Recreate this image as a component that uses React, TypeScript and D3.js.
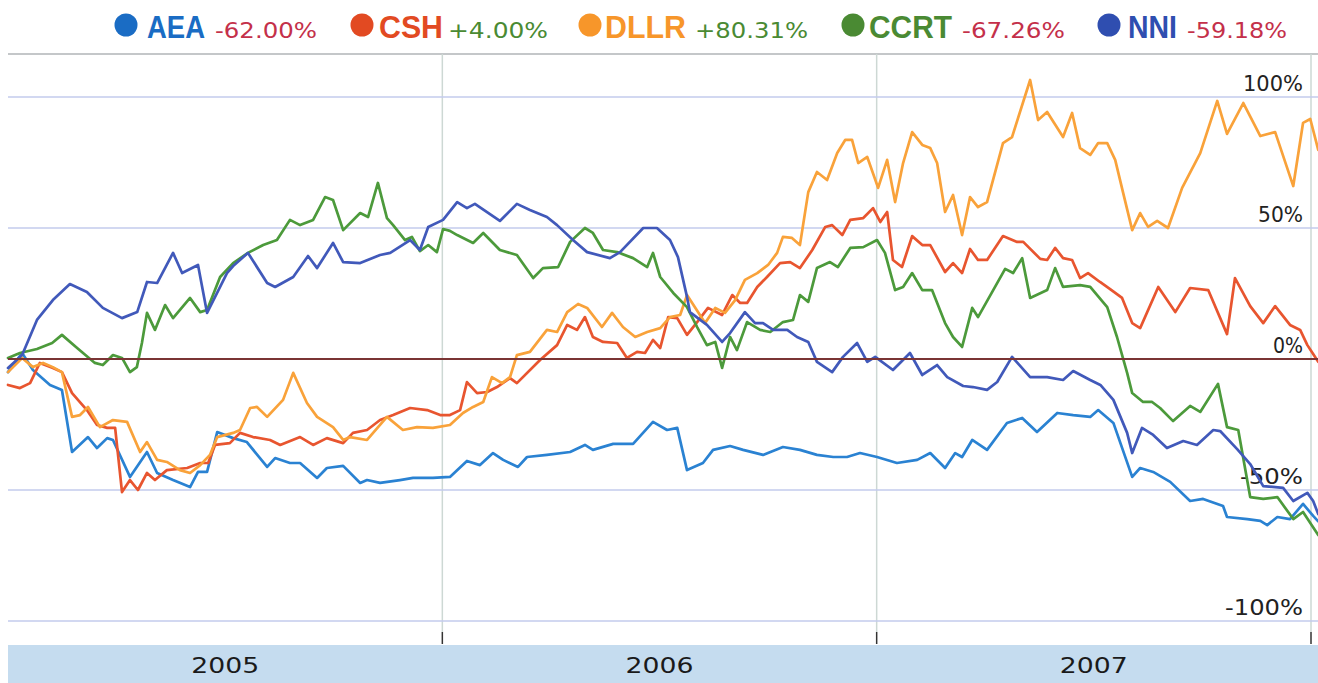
import { useMemo } from 'react';
import * as d3 from 'd3';

// months since Jan 2005, percent change
const AEA: [number, number][] = [
  [0, -5], [0.39, 2.3], [0.69, -4.2], [1.16, -9.9], [1.49, -11.8], [1.77, -35.5], [2.21, -29.8], [2.46, -34],
  [2.74, -30.2], [2.9, -30.9], [3.37, -45], [3.84, -35.5], [4.12, -43.5], [4.56, -46.2], [5.03, -48.9], [5.25, -43.1],
  [5.5, -43.1], [5.78, -27.9], [6.22, -30.2], [6.6, -31.7], [7.16, -41.2], [7.38, -37.8], [7.79, -39.7], [8.07, -39.7],
  [8.54, -45.4], [8.81, -41.6], [9.26, -40.8], [9.73, -47.3], [9.92, -46.2], [10.28, -47.3], [10.83, -46.2],
  [11.19, -45.4], [11.74, -45.4], [12.21, -45], [12.68, -38.9], [13.04, -40.5], [13.4, -35.9], [13.68, -38.5],
  [14.09, -41.2], [14.34, -37.4], [14.89, -36.6], [15.53, -35.5], [15.94, -32.8], [16.16, -34.7], [16.72, -32.4],
  [17.27, -32.4], [17.82, -24], [18.21, -27.1], [18.49, -26.3], [18.76, -42.4], [19.2, -39.7], [19.48, -34.7],
  [19.95, -33.2], [20.31, -34.7], [20.86, -36.6], [21.41, -33.6], [21.88, -34.7], [22.35, -36.6], [22.8, -37.4],
  [23.18, -37.4], [23.54, -35.9], [24.01, -37.4], [24.56, -39.7], [25.12, -38.5], [25.48, -35.9], [25.89, -41.6],
  [26.17, -35.9], [26.36, -37.4], [26.64, -30.9], [27.05, -34.7], [27.6, -24.4], [28.02, -22.5], [28.43, -27.9],
  [28.99, -20.6], [29.43, -21.4], [29.9, -22.1], [30.12, -19.5], [30.54, -24.4], [31.06, -45], [31.28, -41.6],
  [31.64, -43.1], [32.11, -46.9], [32.66, -54.2], [33.02, -53.4], [33.57, -56.1], [33.68, -60.3], [34.24, -61.1],
  [34.6, -61.8], [34.79, -63.4], [35.07, -60.3], [35.42, -61.1], [35.78, -55.3], [36.06, -59.9], [36.2, -62],
];

const CSH: [number, number][] = [
  [0, -9.9], [0.33, -11.1], [0.61, -9.2], [0.88, -1.5], [1.24, -3.4], [1.49, -5], [1.77, -13], [2.18, -19.5],
  [2.46, -25.2], [2.74, -26.3], [2.96, -26.3], [3.15, -50.8], [3.37, -46.2], [3.59, -50], [3.84, -43.5], [4.06, -46.2],
  [4.39, -42.4], [4.95, -41.6], [5.31, -39.7], [5.53, -39.7], [5.72, -32.8], [6.13, -32.1], [6.41, -28.2],
  [6.77, -29.8], [7.24, -30.9], [7.52, -32.8], [8.07, -29.8], [8.43, -32.8], [8.81, -30.2], [9.26, -32.1],
  [9.53, -28.2], [9.92, -27.1], [10.28, -23.3], [10.64, -21.4], [11.11, -18.7], [11.58, -19.5], [11.94, -21.4],
  [12.21, -21.4], [12.49, -19.5], [12.68, -8.8], [12.96, -13], [13.24, -12.6], [13.51, -10.7], [13.87, -7.3],
  [14.06, -9.2], [14.7, -0.4], [15.17, 5.3], [15.45, 13], [15.72, 11.1], [15.94, 16], [16.16, 8.4], [16.44, 6.5],
  [16.83, 6.1], [17.1, 0.4], [17.38, 2.7], [17.6, 2.3], [17.82, 7.3], [18.02, 4.2], [18.24, 16], [18.49, 15.6],
  [18.76, 9.2], [19.04, 14.1], [19.34, 19.5], [19.73, 16.8], [20.01, 24.4], [20.23, 21.4], [20.42, 21.4],
  [20.7, 27.5], [20.97, 31.3], [21.33, 36.6], [21.61, 37], [21.88, 34.7], [22.22, 41.6], [22.58, 50.4],
  [22.77, 51.1], [23.05, 47.3], [23.27, 53.1], [23.63, 53.8], [23.9, 57.6], [24.1, 52.3], [24.29, 56.1],
  [24.45, 37.8], [24.7, 35.1], [24.98, 46.9], [25.26, 43.5], [25.48, 43.5], [25.89, 33.2], [26.11, 36.6],
  [26.36, 32.8], [26.58, 42], [26.8, 37.8], [27.05, 37.8], [27.49, 46.9], [27.88, 44.7], [28.05, 44.7],
  [28.52, 38.2], [28.71, 37.8], [28.93, 42.4], [29.15, 38.5], [29.4, 37.8], [29.62, 30.9], [29.84, 32.8],
  [30.17, 29.4], [30.45, 26.7], [30.78, 23.3], [31.06, 13.7], [31.28, 11.8], [31.78, 27.5], [32.25, 17.9],
  [32.66, 27.1], [33.16, 26.3], [33.68, 9.5], [33.9, 30.9], [34.32, 20.2], [34.68, 13.7], [35.01, 20.2],
  [35.42, 13], [35.7, 11.1], [35.9, 5.3], [36.06, 1.9], [36.2, -1.1],
];

const DLLR: [number, number][] = [
  [0, -5], [0.39, 0.4], [0.69, -3.1], [0.97, -1.5], [1.24, -3.1], [1.49, -5], [1.77, -22.1], [1.99, -21.4],
  [2.21, -18.3], [2.54, -26], [2.9, -23.3], [3.29, -24], [3.65, -35.5], [3.84, -31.7], [4.12, -38.5], [4.39, -39.3],
  [4.75, -42.4], [5.03, -43.5], [5.31, -40.5], [5.58, -36.6], [5.78, -29.8], [6.22, -28.2], [6.41, -27.1],
  [6.69, -18.7], [6.88, -18.3], [7.16, -22.1], [7.6, -15.6], [7.88, -5.3], [8.26, -16.8], [8.54, -22.1],
  [8.98, -26], [9.26, -30.9], [9.45, -29.8], [9.92, -30.9], [10.47, -22.1], [10.91, -27.1], [11.3, -26],
  [11.74, -26.3], [12.21, -25.2], [12.57, -20.6], [12.85, -18.3], [13.13, -16.4], [13.37, -6.9], [13.65, -9.2],
  [13.87, -6.9], [14.06, 1.5], [14.42, 2.7], [14.89, 11.1], [15.17, 10.3], [15.45, 17.9], [15.75, 21],
  [16, 19.5], [16.41, 12.2], [16.69, 17.6], [16.99, 12.2], [17.33, 8.4], [17.66, 10.3], [18.02, 11.8],
  [18.29, 16], [18.57, 16.8], [18.76, 24.4], [19.26, 13.7], [19.54, 19.5], [19.81, 17.6], [20.09, 22.5],
  [20.36, 30.2], [20.7, 32.8], [21, 35.9], [21.25, 40.5], [21.41, 46.6], [21.66, 46.2], [21.88, 43.5],
  [22.11, 63.7], [22.35, 71.4], [22.63, 68.3], [22.91, 78.6], [23.13, 83.6], [23.32, 83.6], [23.49, 74.8],
  [23.74, 77.1], [24.04, 65.3], [24.29, 76], [24.51, 59.9], [24.73, 74.8], [24.98, 86.6], [25.26, 81.7],
  [25.48, 80.5], [25.67, 74.8], [25.89, 56.1], [26.11, 62.6], [26.36, 47.3], [26.58, 61.8], [26.8, 58],
  [27.05, 59.9], [27.49, 82.4], [27.74, 84.7], [28.24, 106.5], [28.46, 91.2], [28.71, 94.3], [29.15, 84.7],
  [29.4, 93.9], [29.62, 80.5], [29.9, 77.9], [30.12, 82.4], [30.37, 82.4], [30.59, 76], [30.81, 63.4],
  [31.06, 49.2], [31.28, 55.7], [31.5, 50.4], [31.75, 52.7], [32.05, 50], [32.44, 65.3], [32.94, 78.6],
  [33.41, 98.5], [33.68, 85.9], [34.13, 97.7], [34.6, 85.1], [35.01, 86.6], [35.51, 66], [35.78, 90.1],
  [35.98, 91.6], [36.2, 79.8],
];

const CCRT: [number, number][] = [
  [0, 0.4], [0.33, 2.3], [0.8, 3.8], [1.22, 6.1], [1.49, 9.2], [1.91, 4.2], [2.4, -1.5], [2.62, -2.3], [2.9, 1.5],
  [3.15, 0.4], [3.37, -5], [3.56, -3.1], [3.7, 6.1], [3.84, 17.6], [4.06, 11.1], [4.34, 20.6], [4.56, 15.6],
  [5.03, 23.3], [5.31, 17.9], [5.5, 18.7], [5.86, 31.3], [6.22, 36.6], [6.63, 40.5], [7.05, 43.5], [7.43, 45.4],
  [7.79, 53.1], [8.07, 51.1], [8.43, 53.1], [8.76, 61.8], [8.98, 60.7], [9.26, 49.2], [9.73, 55.7], [9.95, 54.2],
  [10.22, 67.2], [10.47, 53.8], [10.64, 51.1], [10.97, 45.4], [11.16, 46.6], [11.38, 41.2], [11.61, 43.5],
  [11.85, 40.8], [12.02, 49.6], [12.21, 48.9], [12.41, 47.3], [12.85, 44.3], [13.13, 48.1], [13.59, 41.6],
  [14.06, 39.7], [14.51, 30.9], [14.78, 34.7], [15.2, 35.1], [15.53, 44.7], [15.94, 50], [16.16, 48.1],
  [16.44, 41.6], [16.83, 40.8], [17.27, 38.5], [17.66, 35.1], [17.82, 40.5], [18.02, 31.3], [18.38, 25.2],
  [18.76, 19.8], [19.04, 12.2], [19.31, 5.3], [19.54, 6.5], [19.73, -3.4], [19.95, 8.4], [20.14, 3.4],
  [20.42, 14.1], [20.78, 11.1], [21.06, 10.3], [21.41, 14.1], [21.69, 14.9], [21.88, 24.4], [22.11, 21.8],
  [22.35, 34.7], [22.71, 37], [22.93, 35.1], [23.27, 42.4], [23.63, 42.7], [24.01, 45.4], [24.23, 40.5],
  [24.51, 26.3], [24.73, 27.5], [24.98, 32.8], [25.26, 26.3], [25.53, 26.3], [25.89, 13.7], [26.11, 8.4],
  [26.36, 4.6], [26.64, 19.5], [26.8, 16], [27.22, 26.3], [27.55, 34.4], [27.77, 32.8], [28.02, 38.5],
  [28.24, 23.3], [28.71, 26.3], [28.93, 34.7], [29.15, 27.5], [29.62, 28.2], [29.9, 27.5], [30.37, 19.8],
  [30.64, 8.4], [30.92, -5.3], [31.06, -13], [31.36, -16.4], [31.61, -16.4], [31.83, -18.7], [32.19, -23.7],
  [32.66, -17.9], [32.94, -20.2], [33.43, -9.5], [33.68, -26], [33.99, -27.1], [34.32, -52.7], [34.68, -53.4],
  [35.07, -52.7], [35.51, -61.1], [35.78, -58.4], [36.2, -67.2],
];

const NNI: [number, number][] = [
  [0, -3.4], [0.39, 1.5], [0.8, 14.9], [1.24, 22.5], [1.71, 28.6], [2.18, 25.6], [2.62, 19.5], [3.15, 15.6],
  [3.57, 17.9], [3.84, 29.4], [4.12, 29], [4.56, 40.5], [4.81, 32.8], [5.25, 35.9], [5.5, 17.6], [6.05, 32.8],
  [6.22, 35.5], [6.63, 40.5], [7.16, 29], [7.38, 27.5], [7.88, 31.3], [8.29, 39.3], [8.54, 34.7], [8.98, 44.3],
  [9.26, 37], [9.73, 36.6], [10.28, 39.7], [10.56, 40.5], [11.11, 45.4], [11.38, 41.6], [11.61, 50.4],
  [12.02, 53.1], [12.41, 59.9], [12.68, 57.6], [12.9, 59.2], [13.59, 52.7], [14.06, 59.2], [14.42, 56.9],
  [14.89, 54.2], [15.17, 51.1], [15.61, 45.4], [16, 40.8], [16.63, 38.5], [16.91, 40.8], [17.55, 50],
  [17.93, 50], [18.29, 45.4], [18.51, 38.9], [18.76, 23.7], [18.84, 17.9], [19.31, 13], [19.73, 6.5],
  [19.95, 9.9], [20.36, 17.9], [20.64, 13.7], [20.86, 13.7], [21.14, 11.1], [21.53, 11.1], [21.8, 8.4],
  [22.11, 6.5], [22.35, -1.1], [22.77, -5], [23.07, 0.8], [23.46, 6.1], [23.74, -1.1], [23.96, 0.8],
  [24.45, -4.2], [24.92, 2.3], [25.26, -6.1], [25.67, -2.3], [25.95, -6.9], [26.39, -10.3], [26.66, -10.7],
  [27.05, -11.8], [27.33, -8.8], [27.74, 0.8], [28.24, -6.9], [28.71, -6.9], [29.15, -8], [29.43, -4.6],
  [29.9, -8], [30.18, -9.9], [30.54, -15.6], [30.92, -28.2], [31.06, -35.9], [31.33, -26.3], [31.64, -29],
  [32.02, -34], [32.47, -31.3], [32.85, -32.8], [33.3, -27.1], [33.49, -27.5], [33.96, -34.4], [34.32, -40.1],
  [34.68, -48.5], [35.23, -49.2], [35.51, -54.2], [35.9, -51.1], [36.06, -54.2], [36.2, -59.2],
];

const TICKERS = ['AEA', 'CSH', 'DLLR', 'CCRT', 'NNI'];
const CHANGES = [-62.0, 4.0, 80.31, -67.26, -59.18];
const SERIES = [AEA, CSH, DLLR, CCRT, NNI];
const Y_TICKS = [100, 50, 0, -50, -100];
const YEAR_BOUNDS = [12, 24, 36];
const YEARS = ['2005', '2006', '2007'];

const DOT_COLORS = ['#1a6cc4', '#e24a22', '#f7962a', '#4a8a33', '#2f4eb0'];
const LINE_COLORS = ['#2a82d2', '#e8552f', '#f9a23a', '#4c9a3b', '#4159ba'];

// legend layout: dot center, name start/width, value start/width
const LEGEND_POS = [
  { dot: 126, nx: 147, nw: 58, vx: 215, vw: 102 },
  { dot: 362, nx: 379, nw: 64, vx: 448, vw: 100 },
  { dot: 590, nx: 605, nw: 81, vx: 695, vw: 113 },
  { dot: 853, nx: 869, nw: 83, vx: 962, vw: 103 },
  { dot: 1109, nx: 1128, nw: 49, vx: 1187, vw: 100 },
];

const W = 1318;
const H = 683;
const LEFT = 8;
const TOP = 54;

export default function App() {
  const x = useMemo(() => d3.scaleLinear().domain([0, 36]).range([LEFT, 1311]), []);
  const y = useMemo(() => d3.scaleLinear().domain([-100, 100]).range([621, 97]), []);
  const line = d3.line<[number, number]>()
    .x(d => x(d[0]))
    .y(d => y(d[1]))
    .curve(d3.curveLinear);

  const fmt = (v: number) => (v > 0 ? '+' : '') + v.toFixed(2) + '%';

  return (
    <svg
      width={W}
      height={H}
      style={{ position: 'absolute', left: 0, top: 0, background: '#fff' }}
    >
      {/* legend */}
      {TICKERS.map((t, i) => {
        const p = LEGEND_POS[i];
        const v = CHANGES[i];
        return (
          <g key={t}>
            <circle cx={p.dot} cy={25} r={11.5} fill={DOT_COLORS[i]} />
            <text
              x={p.nx}
              y={38}
              fontFamily="Liberation Sans, Arial, sans-serif"
              fontWeight="bold"
              fontSize={32}
              fill={DOT_COLORS[i]}
              textLength={p.nw}
              lengthAdjust="spacingAndGlyphs"
            >
              {t}
            </text>
            <text
              x={p.vx}
              y={38}
              fontFamily="DejaVu Sans, sans-serif"
              fontSize={21}
              fill={v < 0 ? '#c4304a' : '#4a8a33'}
              textLength={p.vw}
              lengthAdjust="spacingAndGlyphs"
            >
              {fmt(v)}
            </text>
          </g>
        );
      })}

      {/* top border */}
      <line x1={LEFT} x2={W} y1={TOP} y2={TOP} stroke="#c4c7c9" strokeWidth={2} />

      {/* vertical year gridlines */}
      {YEAR_BOUNDS.map(m => (
        <g key={m}>
          <line x1={x(m)} x2={x(m)} y1={TOP} y2={632} stroke="#cdd8d4" strokeWidth={1.5} />
          <line x1={x(m)} x2={x(m)} y1={632} y2={644} stroke="#333" strokeWidth={1.5} />
        </g>
      ))}

      {/* horizontal gridlines */}
      {Y_TICKS.filter(t => t !== 0).map(t => (
        <line key={t} x1={LEFT} x2={W} y1={y(t)} y2={y(t)} stroke="#c3cbec" strokeWidth={1.5} />
      ))}

      {/* y labels */}
      {Y_TICKS.map(t => (
        <text
          key={t}
          x={1303}
          y={y(t) - 6}
          textAnchor="end"
          fontFamily="DejaVu Sans, sans-serif"
          fontSize={22}
          fill="#222"
          textLength={(String(t).length + 1) * 15 + (t < 0 ? 3 : 0)}
          lengthAdjust="spacingAndGlyphs"
        >
          {t + '%'}
        </text>
      ))}

      {/* series */}
      {SERIES.map((s, i) => (
        <path
          key={TICKERS[i]}
          d={line(s) || ''}
          fill="none"
          stroke={LINE_COLORS[i]}
          strokeWidth={2.7}
          strokeLinejoin="round"
          strokeLinecap="round"
        />
      ))}

      {/* zero line */}
      <line x1={LEFT} x2={W} y1={y(0)} y2={y(0)} stroke="#7a3434" strokeWidth={1.8} />

      {/* bottom band */}
      <rect x={LEFT} y={645} width={W - LEFT} height={H - 645} fill="#c5dcef" />
      {YEARS.map((yr, i) => (
        <text
          key={yr}
          x={x(YEAR_BOUNDS[i] - 6)}
          y={673}
          textAnchor="middle"
          fontFamily="DejaVu Sans, sans-serif"
          fontSize={22}
          fill="#1a1a1a"
          textLength={68}
          lengthAdjust="spacingAndGlyphs"
        >
          {yr}
        </text>
      ))}
    </svg>
  );
}
